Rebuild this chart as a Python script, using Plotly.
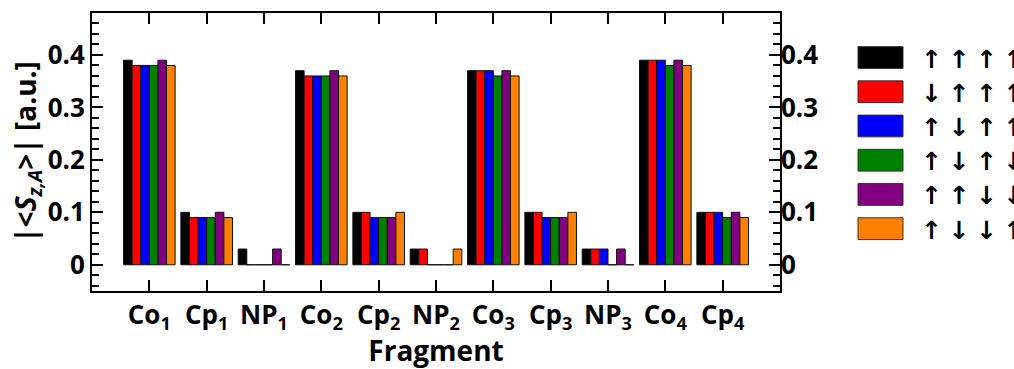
import plotly.graph_objects as go

# Fragments along the x axis
fragments = ["Co<sub>1</sub>", "Cp<sub>1</sub>", "NP<sub>1</sub>",
             "Co<sub>2</sub>", "Cp<sub>2</sub>", "NP<sub>2</sub>",
             "Co<sub>3</sub>", "Cp<sub>3</sub>", "NP<sub>3</sub>",
             "Co<sub>4</sub>", "Cp<sub>4</sub>"]

# Spin configurations (one series each)
configs = ["↑ ↑ ↑ ↑", "↓ ↑ ↑ ↑", "↑ ↓ ↑ ↑", "↑ ↓ ↑ ↓", "↑ ↑ ↓ ↓", "↑ ↓ ↓ ↑"]
colors = ["#000000", "#ff0000", "#0000ff", "#008000", "#800080", "#ff8000"]

s_uuuu = [0.39, 0.10, 0.03, 0.37, 0.10, 0.03, 0.37, 0.10, 0.03, 0.39, 0.10]
s_duuu = [0.38, 0.09, 0.00, 0.36, 0.10, 0.03, 0.37, 0.10, 0.03, 0.39, 0.10]
s_uduu = [0.38, 0.09, 0.00, 0.36, 0.09, 0.00, 0.37, 0.09, 0.03, 0.39, 0.10]
s_udud = [0.38, 0.09, 0.00, 0.36, 0.09, 0.00, 0.36, 0.09, 0.00, 0.38, 0.09]
s_uudd = [0.39, 0.10, 0.03, 0.37, 0.09, 0.00, 0.37, 0.09, 0.03, 0.39, 0.10]
s_uddu = [0.38, 0.09, 0.00, 0.36, 0.10, 0.03, 0.36, 0.10, 0.00, 0.38, 0.09]
series = [s_uuuu, s_duuu, s_uduu, s_udud, s_uudd, s_uddu]

FONT = "Open Sans, DejaVu Sans, sans-serif"
W, H = 1014, 369
ML, MR, MT, MB = 92, 234, 11, 77
PW, PH = W - ML - MR, H - MT - MB

fig = go.Figure()
for name, col, vals in zip(configs, colors, series):
    fig.add_trace(go.Bar(
        x=fragments, y=vals, name=name,
        marker=dict(color=col, line=dict(color="#111111", width=1)),
        showlegend=False,
    ))

yrange = [-0.05, 0.48]
tick_font = dict(family=FONT, size=26, color="black", weight="bold")
title_font = dict(family=FONT, size=28, color="black", weight="bold")

fig.update_layout(
    width=W, height=H,
    margin=dict(l=ML, r=MR, t=MT, b=MB),
    paper_bgcolor="white", plot_bgcolor="white",
    barmode="group", bargap=0.1, bargroupgap=0.0,
    font=dict(family=FONT, color="black"),
    xaxis=dict(
        type="category", range=[-1, 11],
        showline=True, linewidth=2, linecolor="black", mirror="ticks",
        ticks="inside", ticklen=11, tickwidth=2, tickcolor="black",
        tickfont=tick_font, showgrid=False, zeroline=False,
        title=dict(text="Fragment", font=title_font, standoff=4),
    ),
    yaxis=dict(
        range=yrange, tickvals=[0, 0.1, 0.2, 0.3, 0.4],
        ticktext=["0", "0.1", "0.2", "0.3", "0.4"],
        showline=True, linewidth=2, linecolor="black", mirror="ticks",
        ticks="inside", ticklen=11, tickwidth=2, tickcolor="black",
        minor=dict(dtick=0.02, ticks="inside", ticklen=7, tickwidth=2,
                   tickcolor="black", showgrid=False),
        tickfont=tick_font, showgrid=False, zeroline=False,
        title=dict(text="|&lt;<i>S</i><sub><i>z,A</i></sub>&gt;| [a.u.]",
                   font=title_font, standoff=2),
    ),
    yaxis2=dict(
        range=yrange, overlaying="y", side="right",
        tickvals=[0, 0.1, 0.2, 0.3, 0.4],
        ticktext=["0", "0.1", "0.2", "0.3", "0.4"],
        showline=False, ticks="", showgrid=False, zeroline=False,
        tickfont=tick_font,
    ),
)
# invisible trace so the right-hand axis is drawn
fig.add_trace(go.Scatter(x=[fragments[0]], y=[0], yaxis="y2", mode="markers",
                         marker=dict(opacity=0), showlegend=False,
                         hoverinfo="skip"))

# Legend drawn as large swatches with arrow labels
def px_x(px):
    return (px - ML) / PW

def px_y(py):
    return (H - MB - py) / PH

row_y = [56, 90.6, 125.2, 159.8, 194.4, 229]
for name, col, yc in zip(configs, colors, row_y):
    fig.add_shape(type="rect", xref="paper", yref="paper",
                  x0=px_x(858), x1=px_x(903),
                  y0=px_y(yc + 11), y1=px_y(yc - 11),
                  fillcolor=col, line=dict(color="#333333", width=1))
    fig.add_annotation(xref="paper", yref="paper", x=px_x(919), y=px_y(yc),
                       xanchor="left", yanchor="middle", showarrow=False,
                       text=name, font=dict(family=FONT, size=25,
                                            color="black", weight="bold"))

fig.write_html("out.html")
